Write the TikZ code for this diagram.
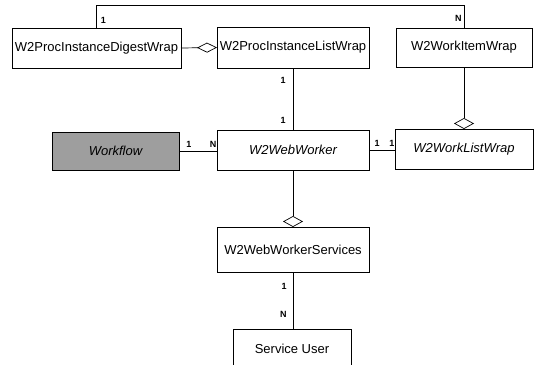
\documentclass[tikz,border=0pt]{standalone}
\usepackage{fontspec}
\setmainfont{Liberation Sans}
\usetikzlibrary{arrows.meta}
\begin{document}
\begin{tikzpicture}[x=1pt,y=-1pt,
  cls/.style={draw, line width=0.8pt, inner sep=0pt, outer sep=0pt,
    font=\fontsize{13}{15}\selectfont},
  clsit/.style={cls, font=\fontsize{13}{15}\selectfont\itshape},
  link/.style={line width=0.7pt},
  mult/.style={font=\fontsize{9}{10}\selectfont\bfseries, inner sep=1pt},
  aggh/.style={-{Diamond[open,length=20pt,width=10pt]}},
  aggv/.style={-{Diamond[open,length=11pt,width=20pt]}},
]
\useasboundingbox (0,0) rectangle (535,364);
\clip (0,0) rectangle (535,364);

% classes
\node[cls, minimum width=169pt, minimum height=40pt] (dg) at (96.5,48) {W2ProcInstanceDigestWrap};
\node[cls, minimum width=152pt, minimum height=41pt] (lw) at (293,47.5) {W2ProcInstanceListWrap};
\node[cls, minimum width=136pt, minimum height=39pt] (wi) at (464,47.5) {W2WorkItemWrap};
\node[clsit, fill=black!38, minimum width=127pt, minimum height=38pt] (wf) at (115.5,151) {Workflow};
\node[clsit, minimum width=152pt, minimum height=40pt] (ww) at (293,150) {W2WebWorker};
\node[clsit, minimum width=138pt, minimum height=40pt] (wl) at (464,149) {W2WorkListWrap};
\node[cls, minimum width=152pt, minimum height=45pt] (sv) at (293,249.5) {W2WebWorkerServices};
\node[cls, minimum width=118pt, minimum height=40pt] (us) at (292,349) {Service User};

% associations
\draw[link] (dg.north) -- node[mult, right=3pt, pos=0.35] {1} ++(0,-23)
  -| node[mult, left=1pt, pos=0.8] {N} (wi.north);
\draw[link, aggh] (dg.east) -- (lw.west);
\draw[link] (lw.south) -- node[mult, left=6pt, pos=0.2] {1}
  node[mult, left=6pt, pos=0.84] {1} (ww.north);
\draw[link, aggv] (wi.south) -- (wl.north);
\draw[link] (wf.east) -- node[mult, above=2pt, pos=0.26] {1}
  node[mult, above=2pt, pos=0.9] {N} (wf.east -| ww.west);
\draw[link] (ww.east) -- node[mult, above=2pt, pos=0.31] {1}
  node[mult, above=2pt, pos=0.88] {1} (ww.east -| wl.west);
\draw[link, aggv] (ww.south) -- (sv.north);
\draw[link] (sv.south) -- node[mult, left=5pt, pos=0.25] {1}
  node[mult, left=5pt, pos=0.75] {N} (sv.south |- us.north);
\end{tikzpicture}
\end{document}
